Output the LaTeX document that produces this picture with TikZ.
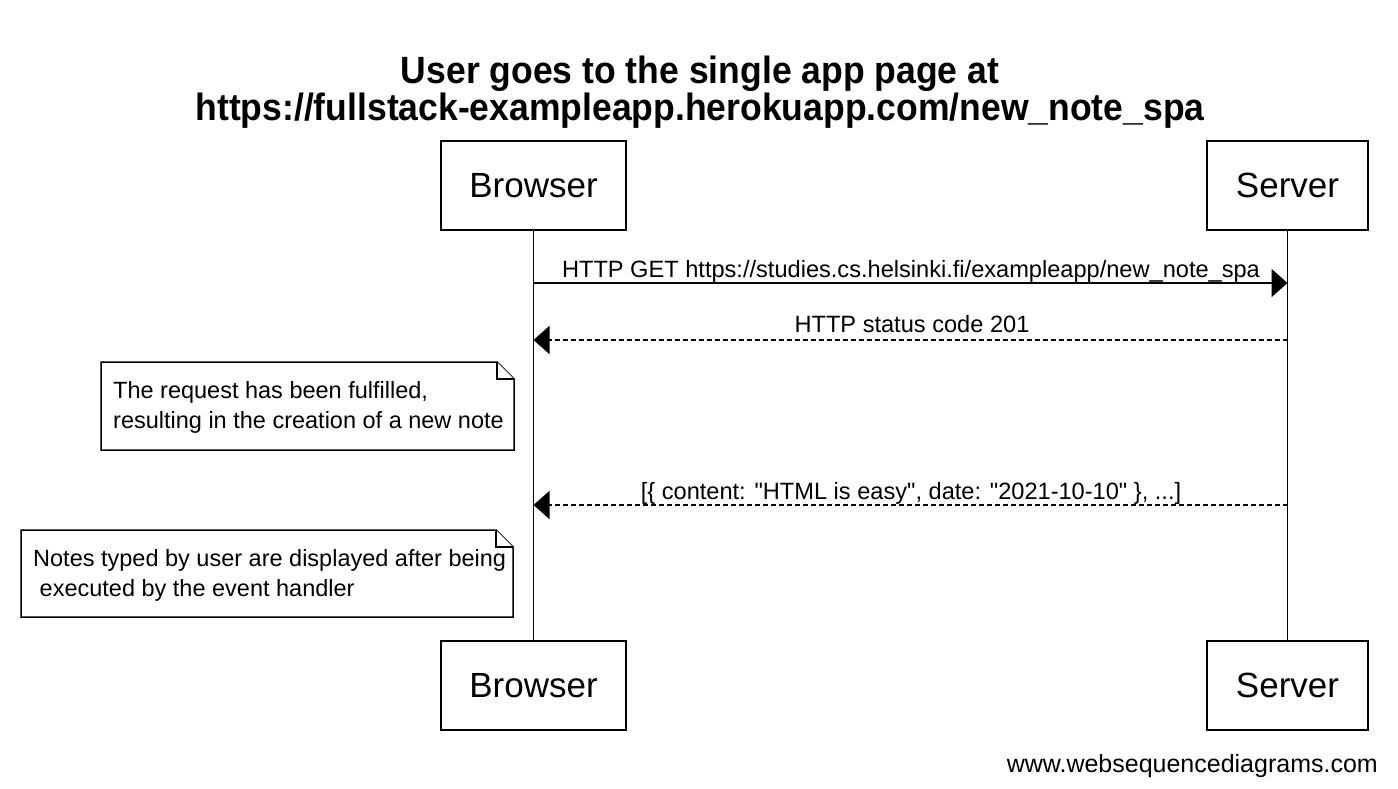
\documentclass[tikz,border=0pt]{standalone}
\usepackage{fontspec}
\setmainfont{Liberation Sans}[Ligatures=TeXOff]
\usetikzlibrary{arrows.meta}
\begin{document}
\begin{tikzpicture}[x=1pt,y=-1pt,
  actor/.style={draw,line width=1.8pt,minimum width=185pt,minimum height=89pt,inner sep=0pt,font=\fontsize{35}{40}\selectfont},
  life/.style={line width=1.7pt},
  msg/.style={line width=1.7pt,-{Triangle[length=16pt,width=28pt]}},
  ret/.style={msg,dash pattern=on 5pt off 3pt},
  lbl/.style={font=\fontsize{23.6}{28}\selectfont,inner sep=0pt,anchor=base},
  notetext/.style={font=\fontsize{23.5}{30}\selectfont,align=left,anchor=north west,inner sep=0pt},
  notebox/.style={line width=1.5pt,fill=white},
  titletext/.style={font=\bfseries\fontsize{38}{37}\selectfont,align=center,inner sep=0pt}
]
\useasboundingbox (0,0) rectangle (1398,788);
% title
\node[titletext] (title) at (700,92)
  {\scalebox{0.935}[1]{User goes to the single app page at}\\\scalebox{0.935}[1]{https://fullstack-exampleapp.herokuapp.com/new\_note\_spa}};
% actors
\node[actor] (bt) at (533.5,185.5) {Browser};
\node[actor,minimum width=161pt] (st) at (1287.5,185.5) {Server};
\node[actor] (bb) at (533.5,685.5) {Browser};
\node[actor,minimum width=161pt] (sb) at (1287.5,685.5) {Server};
\draw[life] (bt.south) -- (bb.north);
\draw[life] (st.south) -- (sb.north);
% message points on the lifelines
\coordinate (b1) at (533.5,283);
\coordinate (s1) at (1287.5,283);
\coordinate (b2) at (533.5,340);
\coordinate (s2) at (1287.5,340);
\coordinate (b3) at (533.5,505);
\coordinate (s3) at (1287.5,505);
\draw[msg] (b1) -- (s1);
\node[lbl] (l1) at (911,277) {HTTP GET https://studies.cs.helsinki.fi/exampleapp/new\_note\_spa};
\draw[ret] (s2) -- (b2);
\node[lbl] (l2) at (912,332) {HTTP status code 201};
\draw[ret] (s3) -- (b3);
\node[lbl] (l3) at (911,499) {[\{ content: "HTML is easy", date: "2021-10-10" \}, ...]};
% note 1
\draw[notebox] (101,362) -- (497,362) -- (514,379) -- (514,450) -- (101,450) -- cycle;
\draw[notebox] (497,362) -- (497,379) -- (514,379);
\node[notetext] (n1) at (113,381) {The request has been fulfilled,\\resulting in the creation of a new note};
% note 2
\draw[notebox] (21,530) -- (496,530) -- (513,547) -- (513,617) -- (21,617) -- cycle;
\draw[notebox] (496,530) -- (496,547) -- (513,547);
\node[notetext] (n2) at (33,549) {Notes typed by user are displayed after being\\\ executed by the event handler};
% footer
\node[font=\fontsize{25}{30}\selectfont,anchor=base east,inner sep=0pt] (foot) at (1378,772) {www.websequencediagrams.com};
\end{tikzpicture}
\end{document}
